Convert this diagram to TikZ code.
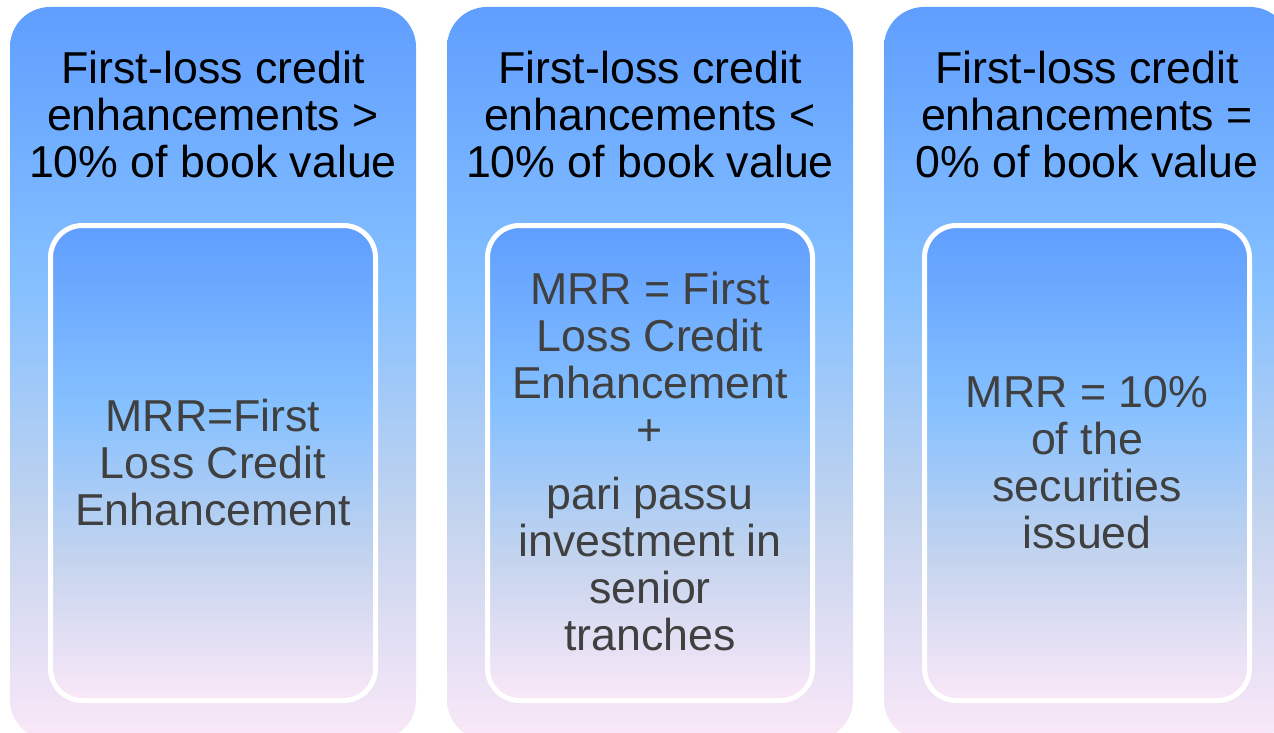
\documentclass[tikz,border=0pt]{standalone}
\usepackage{fontspec}
\setmainfont{Liberation Sans}
\definecolor{fadetop}{RGB}{95,158,255}
\definecolor{fademid}{RGB}{133,192,255}
\definecolor{fadelow}{RGB}{196,212,238}
\definecolor{fadebot}{RGB}{250,232,248}
\definecolor{bodytext}{RGB}{64,64,64}
\pgfdeclareverticalshading{panelfade}{100bp}{color(0bp)=(fadebot); color(25bp)=(fadebot); color(40bp)=(fadelow); color(56bp)=(fademid); color(75bp)=(fadetop); color(100bp)=(fadetop)}

\begin{document}
\begin{tikzpicture}[x=1pt,y=-1pt,font=\fontsize{44.7}{47}\selectfont]
% Outer panels and the framed boxes inside them
\tikzstyle{panel}=[rounded corners=40,minimum width=406,minimum height=733,inner sep=0,shade,shading=panelfade];
\tikzstyle{frame}=[panel,rounded corners=32,minimum width=325,minimum height=475,draw=white,line width=5];
\tikzstyle{head}=[align=center,inner sep=0,text=black];
\tikzstyle{body}=[align=center,inner sep=0,text=bodytext];
\useasboundingbox (0,0) rectangle (1274,733);
\clip (0,0) rectangle (1274,733);
% The three columns
\foreach \i/\x/\sign/\rest in {1/213/>/10\%,2/650/</10\%,3/1087/=/0\%}{
\node[panel](p\i)at(\x,373.5){};
\node[frame](box\i)at(\x,463){};
\node[head](head\i)at(\x,115){First-loss credit\\enhancements \sign\\\rest{} of book value};
}
% Text inside the boxes
\node[body](body1)at(box1){MRR=First\\Loss Credit\\Enhancement};
\node[body](body2)at(650,461.5){MRR = First\\Loss Credit\\Enhancement\\+\\[17pt]pari passu\\investment in\\senior\\tranches};
\node[body](body3)at(box3){MRR = 10\%\\of the\\securities\\issued};
\end{tikzpicture}
\end{document}
